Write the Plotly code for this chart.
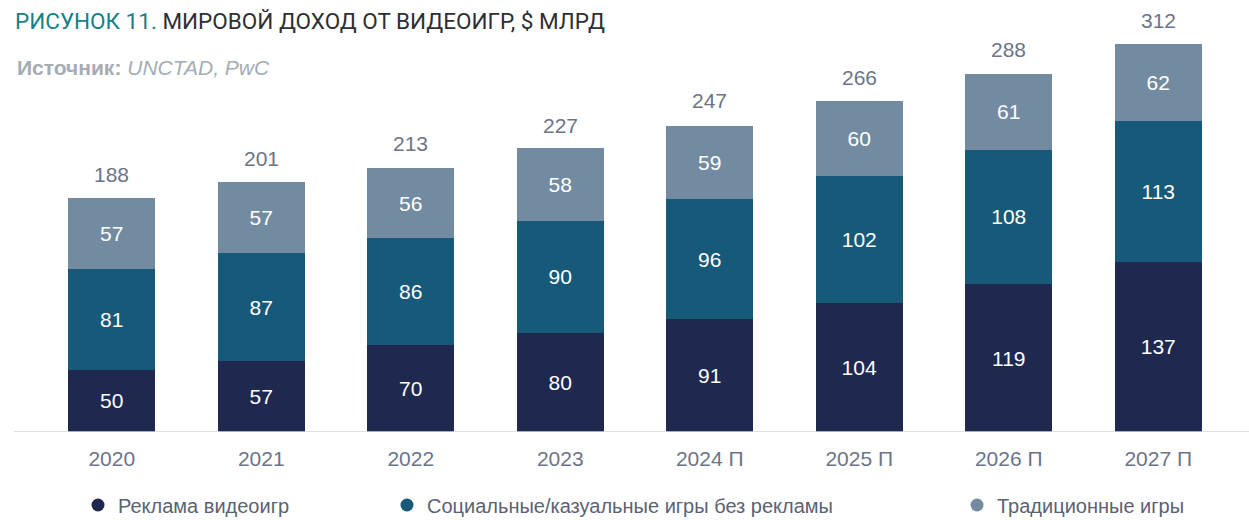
import plotly.graph_objects as go

categories = ["2020", "2021", "2022", "2023", "2024 П", "2025 П", "2026 П", "2027 П"]
ads = [50, 57, 70, 80, 91, 104, 119, 137]
social = [81, 87, 86, 90, 96, 102, 108, 113]
traditional = [57, 57, 56, 58, 59, 60, 61, 62]
totals = [188, 201, 213, 227, 247, 266, 288, 312]

series_names = ["Реклама видеоигр", "Социальные/казуальные игры без рекламы", "Традиционные игры"]
series_values = [ads, social, traditional]
colors = ["#1f284e", "#175978", "#738ba0"]

FONT = "Arial, Liberation Sans, sans-serif"
W, H = 1249, 520
ML, MR, MT, MB = 37, 16, 20, 88
PX_PER_UNIT = (432 - 44) / 312.0
plot_h = H - MT - MB
plot_w = W - ML - MR
y_max = plot_h / PX_PER_UNIT

xpos = list(range(len(categories)))

fig = go.Figure()
for name, vals, col in zip(series_names, series_values, colors):
    fig.add_trace(go.Bar(
        x=xpos, y=vals, name=name, marker=dict(color=col, line=dict(width=0)),
        text=[str(v) for v in vals], textposition="inside", insidetextanchor="middle",
        textfont=dict(color="white", size=21, family=FONT), showlegend=False,
        hoverinfo="skip",
    ))

legend_ids = ["legend", "legend2", "legend3"]
legend_marker_x = [97, 406, 976]
for name, col, lid in zip(series_names, colors, legend_ids):
    fig.add_trace(go.Scatter(
        x=[None], y=[None], mode="markers", name=name, legend=lid,
        marker=dict(color=col, size=13, symbol="circle"), showlegend=True,
    ))

for i, tot in zip(xpos, totals):
    fig.add_annotation(x=i, y=tot, text=str(tot), showarrow=False, yanchor="middle",
                       yshift=24, font=dict(size=21, color="#6c7488", family=FONT))

# baseline
fig.add_shape(type="line", xref="paper", yref="y",
              x0=(14 - ML) / plot_w, x1=(W - ML) / plot_w, y0=0, y1=0,
              line=dict(color="#d3d8df", width=1.5))

# subtitle
fig.add_annotation(xref="paper", yref="paper", x=(15 - ML) / plot_w, y=(H - MB - 68) / plot_h,
                   xanchor="left", yanchor="middle", showarrow=False,
                   text="<b>Источник:</b> <i>UNCTAD, PwC</i>",
                   font=dict(size=21, color="#a3adb3", family=FONT))

leg_common = dict(orientation="h", xref="container", yref="container", yanchor="middle",
                  y=1 - 505 / H, font=dict(size=20, color="#5b6272", family=FONT),
                  bgcolor="rgba(0,0,0,0)", borderwidth=0)
legends = {}
for lid, mx in zip(legend_ids, legend_marker_x):
    d = dict(leg_common)
    d["x"] = (mx - 19) / W
    d["xanchor"] = "left"
    legends[lid] = d

fig.update_layout(
    width=W, height=H,
    margin=dict(l=ML, r=MR, t=MT, b=MB),
    paper_bgcolor="white", plot_bgcolor="white",
    barmode="stack", bargap=0.42,
    title=dict(text="<span style='color:#177f8b'>РИСУНОК 11.</span> МИРОВОЙ ДОХОД ОТ ВИДЕОИГР, $ МЛРД",
               xref="container", yref="container", x=15 / W, y=1 - 21 / H,
               xanchor="left", yanchor="middle",
               font=dict(size=22.5, color="#2d2f33", family="Roboto, sans-serif")),
    xaxis=dict(range=[-0.5, len(categories) - 0.5], tickmode="array", tickvals=xpos, ticktext=categories,
               showgrid=False, showline=False, ticks="", zeroline=False,
               tickfont=dict(size=21, color="#6c7488", family=FONT), ticklabelstandoff=12,
               fixedrange=True),
    yaxis=dict(range=[0, y_max], visible=False, showgrid=False, zeroline=False, fixedrange=True),
    uniformtext=dict(mode=False),
    **legends,
)

fig.write_html("out.html", config={"displayModeBar": False},
               post_script="document.body.style.margin='0px';document.body.style.overflow='hidden';")
